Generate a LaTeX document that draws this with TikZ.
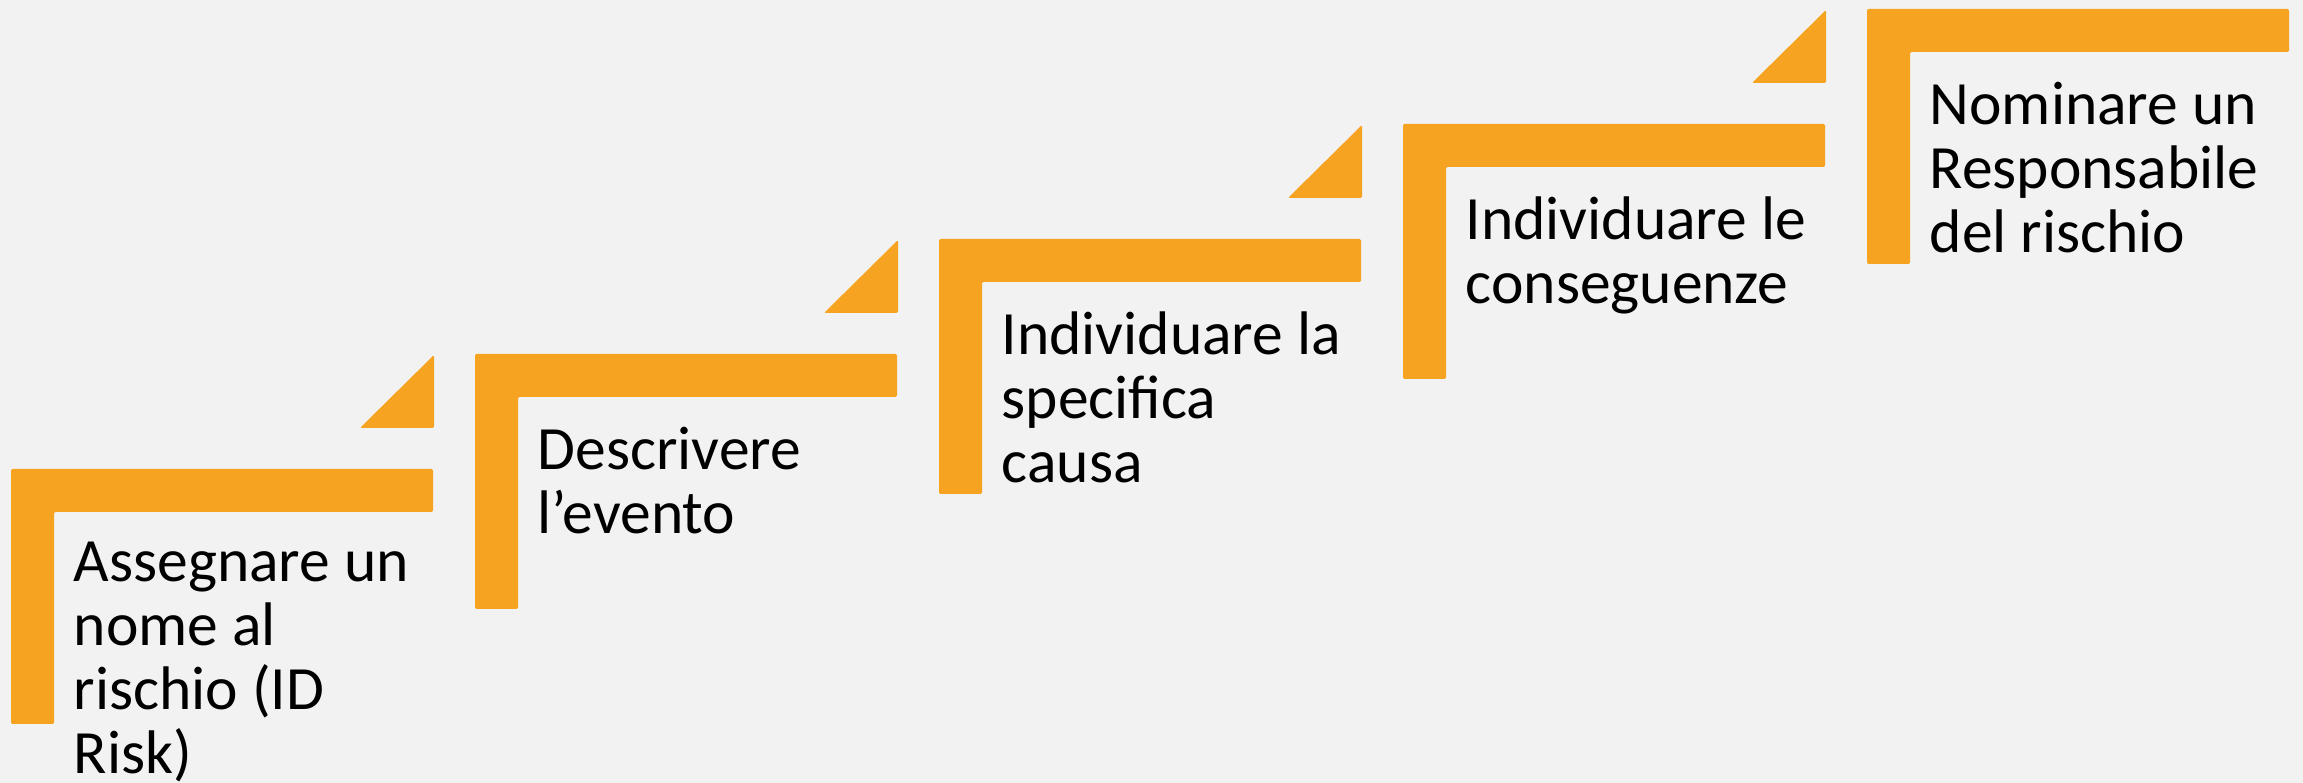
\documentclass[tikz,border=0pt]{standalone}
\usepackage{fontspec}
\setmainfont{Carlito}
\definecolor{stairorange}{HTML}{F5A320}
\definecolor{bggray}{HTML}{F2F2F2}

\begin{document}
\begin{tikzpicture}[x=0.01cm,y=0.01cm,
  stair/.style={fill=stairorange,draw=none,rounded corners=0.4pt},
  steptext/.style={anchor=north west,align=left,inner sep=0pt,
    font=\fontsize{17.5}{18.2}\selectfont,
    execute at begin node={\rule{0pt}{0.6cm}}}]

  % ===== BACKGROUND =====
  \fill[bggray] (0,0) rectangle (2303,783);
  \useasboundingbox (0,0) rectangle (2303,783);

  % ===== STEPS =====
  \foreach \i/\txt in {0/{Assegnare un\\nome al\\rischio (ID\\Risk)},
                       1/{Descrivere\\l’evento},
                       2/{Individuare la\\specifica\\causa},
                       3/{Individuare le\\conseguenze},
                       4/{Nominare un\\Responsabile\\del rischio}}
  {
    \begin{scope}[shift={(464*\i,115*\i)}]
      % L-shaped tread
      \fill[stair] (11,314) -- (433,314) -- (433,271) -- (54,271)
                   -- (54,59) -- (11,59) -- cycle;
      % small wedge above
      \fill[stair] (360,355) -- (434,355) -- (434,428) -- cycle;
      \node[steptext] (stage\i) at (73,242) {\txt};
    \end{scope}
  }

\end{tikzpicture}
\end{document}
